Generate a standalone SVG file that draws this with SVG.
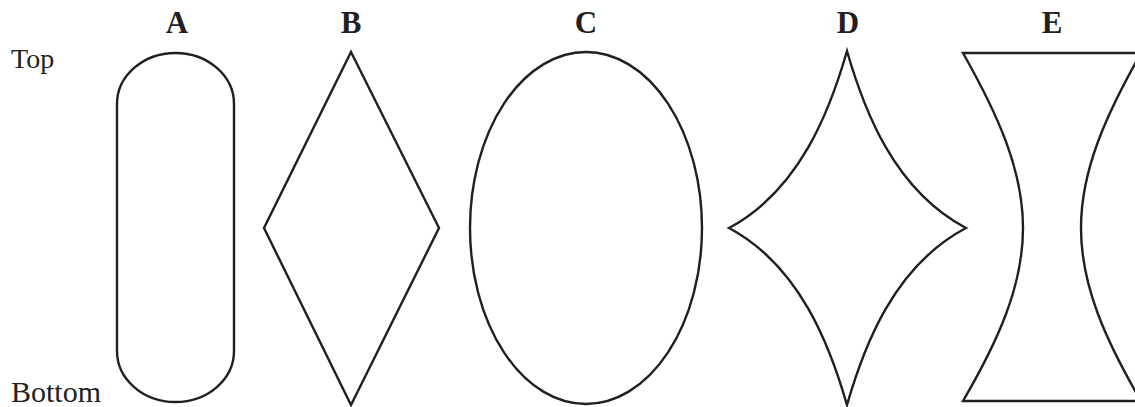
<svg xmlns="http://www.w3.org/2000/svg" width="1135" height="407" viewBox="0 0 1135 407">
<style>
.s{fill:none;stroke:#231f20;stroke-width:2.4;stroke-linejoin:miter}
.l{font-family:"Liberation Serif",serif;font-weight:bold;font-size:31px;fill:#231f20;text-anchor:middle}
.t{font-family:"Liberation Serif",serif;fill:#231f20}
</style>
<rect width="1135" height="407" fill="#fff"/>
<g id="labels">
<text class="t" x="11" y="68" font-size="28">Top</text>
<text class="t" x="11" y="402" font-size="30">Bottom</text>
</g>
<g id="A">
<text class="l" x="177" y="33">A</text>
<path class="s" d="M117,104 A58.5,51 0 0 1 234,104 L234,351 A58.5,51 0 0 1 117,351 Z"/>
</g>
<g id="B">
<text class="l" x="351" y="33">B</text>
<path class="s" d="M351,52 L439,228 L351,405 L264,228 Z"/>
</g>
<g id="C">
<text class="l" x="586" y="33">C</text>
<ellipse class="s" cx="586" cy="228" rx="116" ry="176"/>
</g>
<g id="D">
<text class="l" x="848" y="33">D</text>
<path class="s" d="M847,51 C864,110 894,190 966,228 C894,266 864,346 847,405 C830,346 800,266 729,228 C800,190 830,110 847,51 Z"/>
</g>
<g id="E">
<text class="l" x="1052" y="33">E</text>
<path class="s" d="M963,53 L1141,53 C1106,115 1081,170 1081,228 C1081,286 1106,341 1141,401 L963,401 C998,341 1023,286 1023,228 C1023,170 998,115 963,53 Z"/>
</g>
</svg>
